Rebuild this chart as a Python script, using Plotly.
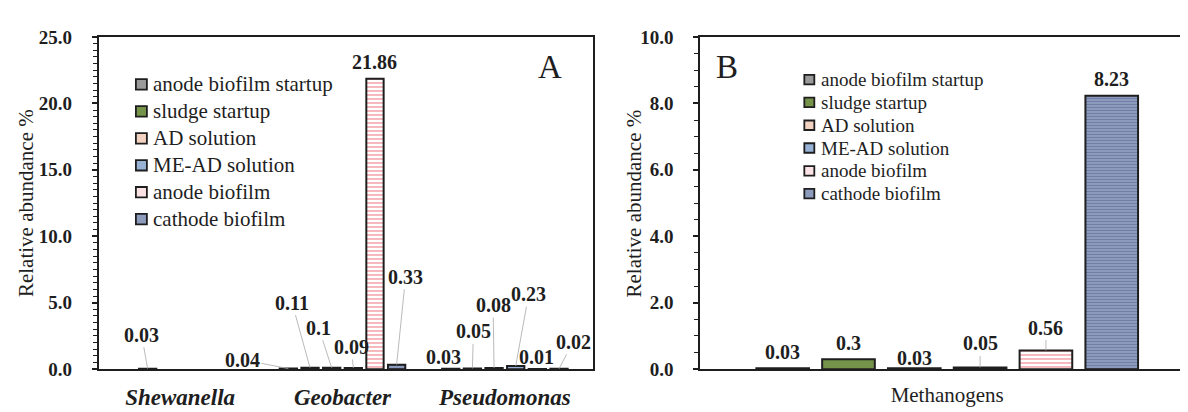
import plotly.graph_objects as go

# ---------------- data ----------------
series = ["anode biofilm startup", "sludge startup", "AD solution",
          "ME-AD solution", "anode biofilm", "cathode biofilm"]
genera = ["Shewanella", "Geobacter", "Pseudomonas"]
# values per series across genera (panel A); None = no bar
anode_startup_A = [None, 0.04, 0.03]
sludge_startup_A = [0.03, 0.11, 0.05]
ad_solution_A = [None, 0.10, 0.08]
mead_solution_A = [None, 0.09, 0.23]
anode_biofilm_A = [None, 21.86, 0.01]
cathode_biofilm_A = [None, 0.33, 0.02]
values_A = [anode_startup_A, sludge_startup_A, ad_solution_A,
            mead_solution_A, anode_biofilm_A, cathode_biofilm_A]

group_B = ["Methanogens"]
values_B = [[0.03], [0.30], [0.03], [0.05], [0.56], [8.23]]

yticks_A = [0, 5, 10, 15, 20, 25]
yticks_B = [0, 2, 4, 6, 8, 10]

# ---------------- styles ----------------
FONT = "Liberation Serif"
INK = "#1e1e1e"
styles = [
    dict(bg="#9a9a9a", fg="#6a6a6a", shape=".", size=3, sol=0.5),
    dict(bg="#76934a", fg="#76934a", shape="", size=8, sol=0.2),
    dict(bg="#f3d2c1", fg="#ffffff", shape="-", size=5, sol=0.25),
    dict(bg="#98b2d6", fg="#98b2d6", shape="", size=8, sol=0.2),
    dict(bg="#ffffff", fg="#f4a6ad", shape="-", size=4, sol=0.4),
    dict(bg="#8d9bbd", fg="#6f7ea5", shape="-", size=3, sol=0.35),
]
legend_fill = ["#9a9a9a", "#76934a", "#f3d2c1", "#98b2d6", "#fbe3e5", "#8d9bbd"]

# label offsets (px) from bar top: (series, category index, dx, dy, leader)
labels_A = [
    (1, 0, -6, -34, True),
    (0, 1, -46, -9, True), (1, 1, -18, -65, True), (2, 1, -13, -40, True),
    (3, 1, -2, -21, True), (4, 1, 0, -17, False), (5, 1, 9, -88, True),
    (0, 2, -7, -12, False), (1, 2, 1, -37, True), (2, 2, -1, -63, True),
    (3, 2, 13, -72, True), (4, 2, -1, -12, False), (5, 2, 14, -27, True),
]
labels_B = [
    (0, 0, 0, -16, False), (1, 0, 0, -16, False), (2, 0, 0, -10, False),
    (3, 0, 0, -24, True), (4, 0, 0, -23, True), (5, 0, 0, -17, False),
]

W, H = 1188, 412
BARGAP, GROUPGAP = 0.2, 0.2
n = len(series)


def bar_x(cat_idx, s_idx):
    slot = (1 - BARGAP) / n
    return cat_idx - (1 - BARGAP) / 2 + slot * (s_idx + 0.5)


fig = go.Figure()
for j, name in enumerate(series):
    st = styles[j]
    for cats, vals, xa, ya in [(genera, values_A[j], "x", "y"),
                               (group_B, values_B[j], "x2", "y2")]:
        fig.add_trace(go.Bar(
            x=cats, y=vals, name=name, xaxis=xa, yaxis=ya, showlegend=False,
            marker=dict(color=st["bg"], line=dict(color=INK, width=2),
                        pattern=dict(shape=st["shape"], fgcolor=st["fg"], bgcolor=st["bg"],
                                     size=st["size"], solidity=st["sol"], fillmode="replace")),
            hoverinfo="skip",
        ))

annotations = []
shapes = []
for labels, vals, xr, yr in [(labels_A, values_A, "x", "y"), (labels_B, values_B, "x2", "y2")]:
    for s, c, dx, dy, leader in labels:
        v = vals[s][c]
        annotations.append(dict(
            x=bar_x(c, s), y=v, xref=xr, yref=yr, text=f"{v:g}",
            showarrow=True, ax=dx, ay=dy, arrowhead=0, arrowwidth=0.8, standoff=0,
            arrowcolor="#a8a8a8" if leader else "rgba(0,0,0,0)",
            font=dict(family=FONT, size=20, color=INK, weight="bold"),
        ))

# custom legends: (symbol left px, symbol size, text left px, first row y px, row step, font size)
for sx, ss, tx, y0, step, fs in [(128, 11, 143, 70, 28.4, 21), (797, 10, 812, 65, 24, 19)]:
    for k, name in enumerate(series):
        yc = y0 + step * k
        shapes.append(dict(type="rect", xref="paper", yref="paper",
                           x0=sx / W, x1=(sx + ss) / W,
                           y0=1 - (yc + ss / 2) / H, y1=1 - (yc - ss / 2) / H,
                           fillcolor=legend_fill[k], line=dict(color=INK, width=1.8)))
        annotations.append(dict(x=tx / W, y=1 - yc / H, xref="paper", yref="paper",
                                xanchor="left", yanchor="middle", text=name, showarrow=False,
                                font=dict(family=FONT, size=fs, color=INK)))

# axis titles and panel letters
for xp in [18, 627]:
    annotations.append(dict(x=xp / W, y=1 - 195 / H, xref="paper", yref="paper",
                            xanchor="center", yanchor="middle",
                            text="Relative abundance %", textangle=-90, showarrow=False,
                            font=dict(family=FONT, size=21, color=INK)))
for letter, xp in [("A", 542), ("B", 720)]:
    annotations.append(dict(x=xp / W, y=1 - 52 / H, xref="paper", yref="paper", text=letter,
                            xanchor="center", yanchor="middle", showarrow=False,
                            font=dict(family=FONT, size=33, color=INK)))

ydom = [1 - 370 / H, 1 - 20 / H]
axis_common = dict(showline=True, linecolor=INK, linewidth=2, mirror=True,
                   showgrid=False, zeroline=False)
yaxis_common = dict(axis_common, ticks="outside", ticklen=5, tickwidth=1.5, tickcolor=INK,
                    tickformat=".1f", ticklabelstandoff=16,
                    tickfont=dict(family=FONT, size=19, color=INK, weight="bold"),
                    minor=dict(ticks="outside", ticklen=4, tickwidth=1, tickcolor=INK, dtick=0.5))

fig.update_layout(
    width=W, height=H, margin=dict(l=0, r=0, t=0, b=0),
    paper_bgcolor="white", plot_bgcolor="white",
    barmode="group", bargap=BARGAP, bargroupgap=GROUPGAP,
    xaxis=dict(axis_common, domain=[91 / W, 585 / W], anchor="y", type="category",
               ticks="", ticklabelstandoff=6,
               tickfont=dict(family=FONT, size=23, color=INK, weight="bold", style="italic")),
    yaxis=dict(yaxis_common, domain=ydom, anchor="x", range=[0, 25], tickvals=yticks_A),
    xaxis2=dict(axis_common, domain=[693 / W, 1187 / W], anchor="y2", type="category",
                ticks="", ticklabelstandoff=6,
                tickfont=dict(family=FONT, size=21, color=INK)),
    yaxis2=dict(yaxis_common, domain=ydom, anchor="x2", range=[0, 10], tickvals=yticks_B),
    annotations=annotations,
    shapes=shapes,
    showlegend=False,
)

fig.write_html("out.html")
